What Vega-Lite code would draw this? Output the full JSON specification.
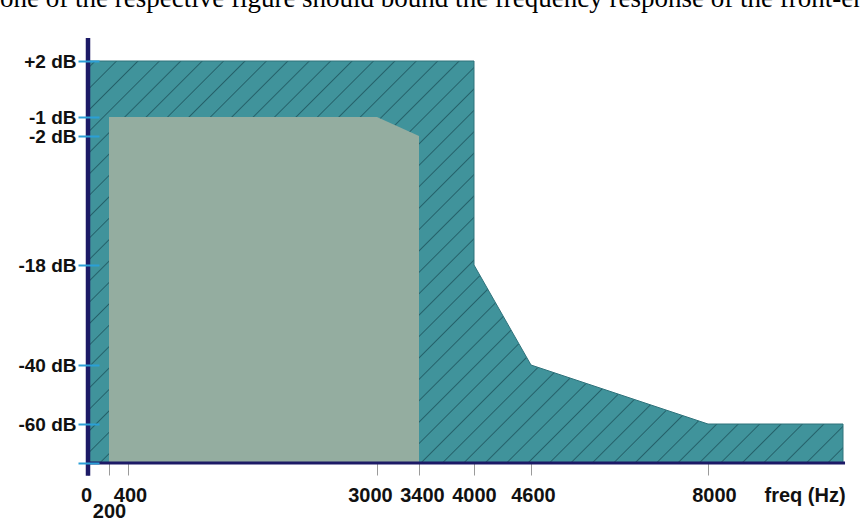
{
  "$schema": "https://vega.github.io/schema/vega-lite/v6.json",
  "width": 757,
  "height": 425,
  "autosize": "none",
  "padding": {"left": 88, "top": 38, "right": 15, "bottom": 58},
  "background": "white",
  "config": {"view": {"stroke": null}},
  "title": {
    "text": "one of the respective figure should bound the frequency response of the front-end",
    "font": "Liberation Serif",
    "fontSize": 27,
    "fontWeight": "normal",
    "color": "#000000",
    "anchor": "start",
    "frame": "group",
    "baseline": "alphabetic",
    "offset": 2,
    "dx": -88
  },
  "datasets": {
    "mask": [
      {"freq": 0, "dB": 2},
      {"freq": 4000, "dB": 2},
      {"freq": 4000, "dB": -18},
      {"freq": 4600, "dB": -40},
      {"freq": 8000, "dB": -60},
      {"freq": 10000, "dB": -60}
    ],
    "passband": [
      {"freq": 200, "dB": -1},
      {"freq": 3000, "dB": -1},
      {"freq": 3400, "dB": -2}
    ]
  },
  "layer": [
    {
      "data": {"name": "mask"},
      "mark": {
        "type": "area",
        "stroke": "#2f727b",
        "strokeWidth": 1,
        "fill": {
          "gradient": "linear",
          "x1": 0, "y1": 0, "x2": 1.194, "y2": 0.636,
          "stops": [
            {"offset": 0, "color": "#40939b"},
            {"offset": 0.005, "color": "#40939b"}, {"offset": 0.0062, "color": "#25616a"}, {"offset": 0.0074, "color": "#40939b"},
            {"offset": 0.0235, "color": "#40939b"}, {"offset": 0.0247, "color": "#25616a"}, {"offset": 0.0259, "color": "#40939b"},
            {"offset": 0.042, "color": "#40939b"}, {"offset": 0.0432, "color": "#25616a"}, {"offset": 0.0444, "color": "#40939b"},
            {"offset": 0.0605, "color": "#40939b"}, {"offset": 0.0617, "color": "#25616a"}, {"offset": 0.0629, "color": "#40939b"},
            {"offset": 0.079, "color": "#40939b"}, {"offset": 0.0802, "color": "#25616a"}, {"offset": 0.0814, "color": "#40939b"},
            {"offset": 0.0975, "color": "#40939b"}, {"offset": 0.0987, "color": "#25616a"}, {"offset": 0.0999, "color": "#40939b"},
            {"offset": 0.116, "color": "#40939b"}, {"offset": 0.1172, "color": "#25616a"}, {"offset": 0.1184, "color": "#40939b"},
            {"offset": 0.1345, "color": "#40939b"}, {"offset": 0.1357, "color": "#25616a"}, {"offset": 0.1369, "color": "#40939b"},
            {"offset": 0.153, "color": "#40939b"}, {"offset": 0.1542, "color": "#25616a"}, {"offset": 0.1554, "color": "#40939b"},
            {"offset": 0.1715, "color": "#40939b"}, {"offset": 0.1727, "color": "#25616a"}, {"offset": 0.1739, "color": "#40939b"},
            {"offset": 0.19, "color": "#40939b"}, {"offset": 0.1912, "color": "#25616a"}, {"offset": 0.1924, "color": "#40939b"},
            {"offset": 0.2085, "color": "#40939b"}, {"offset": 0.2097, "color": "#25616a"}, {"offset": 0.2109, "color": "#40939b"},
            {"offset": 0.227, "color": "#40939b"}, {"offset": 0.2282, "color": "#25616a"}, {"offset": 0.2294, "color": "#40939b"},
            {"offset": 0.2455, "color": "#40939b"}, {"offset": 0.2467, "color": "#25616a"}, {"offset": 0.2479, "color": "#40939b"},
            {"offset": 0.264, "color": "#40939b"}, {"offset": 0.2652, "color": "#25616a"}, {"offset": 0.2664, "color": "#40939b"},
            {"offset": 0.2825, "color": "#40939b"}, {"offset": 0.2837, "color": "#25616a"}, {"offset": 0.2849, "color": "#40939b"},
            {"offset": 0.301, "color": "#40939b"}, {"offset": 0.3022, "color": "#25616a"}, {"offset": 0.3034, "color": "#40939b"},
            {"offset": 0.3195, "color": "#40939b"}, {"offset": 0.3207, "color": "#25616a"}, {"offset": 0.3219, "color": "#40939b"},
            {"offset": 0.338, "color": "#40939b"}, {"offset": 0.3392, "color": "#25616a"}, {"offset": 0.3404, "color": "#40939b"},
            {"offset": 0.3565, "color": "#40939b"}, {"offset": 0.3577, "color": "#25616a"}, {"offset": 0.3589, "color": "#40939b"},
            {"offset": 0.375, "color": "#40939b"}, {"offset": 0.3762, "color": "#25616a"}, {"offset": 0.3774, "color": "#40939b"},
            {"offset": 0.3935, "color": "#40939b"}, {"offset": 0.3947, "color": "#25616a"}, {"offset": 0.3959, "color": "#40939b"},
            {"offset": 0.412, "color": "#40939b"}, {"offset": 0.4132, "color": "#25616a"}, {"offset": 0.4144, "color": "#40939b"},
            {"offset": 0.4305, "color": "#40939b"}, {"offset": 0.4317, "color": "#25616a"}, {"offset": 0.4329, "color": "#40939b"},
            {"offset": 0.449, "color": "#40939b"}, {"offset": 0.4502, "color": "#25616a"}, {"offset": 0.4514, "color": "#40939b"},
            {"offset": 0.4675, "color": "#40939b"}, {"offset": 0.4687, "color": "#25616a"}, {"offset": 0.4699, "color": "#40939b"},
            {"offset": 0.486, "color": "#40939b"}, {"offset": 0.4872, "color": "#25616a"}, {"offset": 0.4884, "color": "#40939b"},
            {"offset": 0.5045, "color": "#40939b"}, {"offset": 0.5057, "color": "#25616a"}, {"offset": 0.5069, "color": "#40939b"},
            {"offset": 0.523, "color": "#40939b"}, {"offset": 0.5242, "color": "#25616a"}, {"offset": 0.5254, "color": "#40939b"},
            {"offset": 0.5415, "color": "#40939b"}, {"offset": 0.5427, "color": "#25616a"}, {"offset": 0.5439, "color": "#40939b"},
            {"offset": 0.56, "color": "#40939b"}, {"offset": 0.5612, "color": "#25616a"}, {"offset": 0.5624, "color": "#40939b"},
            {"offset": 0.5785, "color": "#40939b"}, {"offset": 0.5797, "color": "#25616a"}, {"offset": 0.5809, "color": "#40939b"},
            {"offset": 0.597, "color": "#40939b"}, {"offset": 0.5982, "color": "#25616a"}, {"offset": 0.5994, "color": "#40939b"},
            {"offset": 0.6155, "color": "#40939b"}, {"offset": 0.6167, "color": "#25616a"}, {"offset": 0.6179, "color": "#40939b"},
            {"offset": 0.634, "color": "#40939b"}, {"offset": 0.6352, "color": "#25616a"}, {"offset": 0.6364, "color": "#40939b"},
            {"offset": 0.6525, "color": "#40939b"}, {"offset": 0.6537, "color": "#25616a"}, {"offset": 0.6549, "color": "#40939b"},
            {"offset": 0.671, "color": "#40939b"}, {"offset": 0.6722, "color": "#25616a"}, {"offset": 0.6734, "color": "#40939b"},
            {"offset": 0.6895, "color": "#40939b"}, {"offset": 0.6907, "color": "#25616a"}, {"offset": 0.6919, "color": "#40939b"},
            {"offset": 0.708, "color": "#40939b"}, {"offset": 0.7092, "color": "#25616a"}, {"offset": 0.7104, "color": "#40939b"},
            {"offset": 0.7265, "color": "#40939b"}, {"offset": 0.7277, "color": "#25616a"}, {"offset": 0.7289, "color": "#40939b"},
            {"offset": 0.745, "color": "#40939b"}, {"offset": 0.7462, "color": "#25616a"}, {"offset": 0.7474, "color": "#40939b"},
            {"offset": 0.7635, "color": "#40939b"}, {"offset": 0.7647, "color": "#25616a"}, {"offset": 0.7659, "color": "#40939b"},
            {"offset": 0.782, "color": "#40939b"}, {"offset": 0.7832, "color": "#25616a"}, {"offset": 0.7844, "color": "#40939b"},
            {"offset": 0.8005, "color": "#40939b"}, {"offset": 0.8017, "color": "#25616a"}, {"offset": 0.8029, "color": "#40939b"},
            {"offset": 0.819, "color": "#40939b"}, {"offset": 0.8202, "color": "#25616a"}, {"offset": 0.8214, "color": "#40939b"},
            {"offset": 0.8375, "color": "#40939b"}, {"offset": 0.8387, "color": "#25616a"}, {"offset": 0.8399, "color": "#40939b"},
            {"offset": 0.856, "color": "#40939b"}, {"offset": 0.8572, "color": "#25616a"}, {"offset": 0.8584, "color": "#40939b"},
            {"offset": 0.8745, "color": "#40939b"}, {"offset": 0.8757, "color": "#25616a"}, {"offset": 0.8769, "color": "#40939b"},
            {"offset": 0.893, "color": "#40939b"}, {"offset": 0.8942, "color": "#25616a"}, {"offset": 0.8954, "color": "#40939b"},
            {"offset": 0.9115, "color": "#40939b"}, {"offset": 0.9127, "color": "#25616a"}, {"offset": 0.9139, "color": "#40939b"},
            {"offset": 0.93, "color": "#40939b"}, {"offset": 0.9312, "color": "#25616a"}, {"offset": 0.9324, "color": "#40939b"},
            {"offset": 0.9485, "color": "#40939b"}, {"offset": 0.9497, "color": "#25616a"}, {"offset": 0.9509, "color": "#40939b"},
            {"offset": 0.967, "color": "#40939b"}, {"offset": 0.9682, "color": "#25616a"}, {"offset": 0.9694, "color": "#40939b"},
            {"offset": 0.9855, "color": "#40939b"}, {"offset": 0.9867, "color": "#25616a"}, {"offset": 0.9879, "color": "#40939b"},
            {"offset": 1, "color": "#40939b"}
          ]
        }
      },
      "encoding": {
        "x": {
          "field": "freq", "type": "quantitative",
          "scale": {"type": "linear", "domain": [0, 200, 400, 3000, 3400, 4000, 4600, 8000, 10000], "range": [0, 21, 40, 289, 331, 386, 443, 620, 755], "nice": false, "zero": false},
          "axis": {
            "title": "freq (Hz)",
            "values": [0, 200, 400, 3000, 3400, 4000, 4600, 8000],
            "format": "d",
            "domain": false,
            "grid": false,
            "tickColor": "#9a9a9a",
            "tickWidth": 1,
            "tickSize": 12,
            "labelFont": "Liberation Sans",
            "labelFontSize": 20,
            "labelFontWeight": "bold",
            "labelColor": "#111111",
            "labelBaseline": "alphabetic",
            "labelFlush": false,
            "labelOverlap": false,
            "labelBound": false,
            "labelPadding": {"condition": {"test": "datum.value == 200", "value": 42}, "value": 26},
            "labelOffset": {"condition": [
              {"test": "datum.value == 0", "value": -2},
              {"test": "datum.value == 400", "value": 2},
              {"test": "datum.value == 3000", "value": -7},
              {"test": "datum.value == 3400", "value": 3},
              {"test": "datum.value == 4600", "value": 2},
              {"test": "datum.value == 8000", "value": 6}
            ], "value": 0},
            "titleFont": "Liberation Sans",
            "titleFontSize": 20,
            "titleFontWeight": "bold",
            "titleColor": "#111111",
            "titleAnchor": "start",
            "titleAlign": "left",
            "titleBaseline": "alphabetic",
            "titleX": 676,
            "titleY": 38,
            "zindex": 0
          }
        },
        "y": {
          "field": "dB", "type": "quantitative",
          "scale": {"type": "linear", "domain": [-70, -60, -40, -18, -2, -1, 2, 5], "range": [425, 386, 327, 227, 98, 79, 23, 0], "nice": false, "zero": false},
          "axis": {
            "title": null,
            "values": [-70, -60, -40, -18, -2, -1, 2],
            "labelExpr": "datum.value == -70 ? '' : (datum.value > 0 ? '+' : '') + datum.value + ' dB'",
            "domain": false,
            "grid": false,
            "offset": -11,
            "tickColor": "#2a9fd6",
            "tickWidth": 2,
            "tickSize": 21,
            "labelFont": "Liberation Sans",
            "labelFontSize": 19,
            "labelFontWeight": "bold",
            "labelColor": "#111111",
            "labelPadding": 2,
            "labelOverlap": false,
            "labelBound": false,
            "labelFlush": false,
            "zindex": 1
          }
        },
        "y2": {"datum": -70}
      }
    },
    {
      "data": {"name": "passband"},
      "mark": {"type": "area", "color": "#94ada0"},
      "encoding": {
        "x": {"field": "freq", "type": "quantitative"},
        "y": {"field": "dB", "type": "quantitative"},
        "y2": {"datum": -70}
      }
    },
    {
      "data": {"values": [{}]},
      "mark": {"type": "rule", "color": "#1c1a66", "strokeWidth": 3},
      "encoding": {
        "x": {"datum": 0, "type": "quantitative"},
        "x2": {"datum": 10030},
        "y": {"datum": -70, "type": "quantitative"}
      }
    },
    {
      "data": {"values": [{}]},
      "mark": {"type": "rule", "color": "#1c1a66", "strokeWidth": 4.5},
      "encoding": {
        "x": {"datum": 0, "type": "quantitative"},
        "y": {"datum": 5, "type": "quantitative"},
        "y2": {"datum": -73.3}
      }
    }
  ]
}
